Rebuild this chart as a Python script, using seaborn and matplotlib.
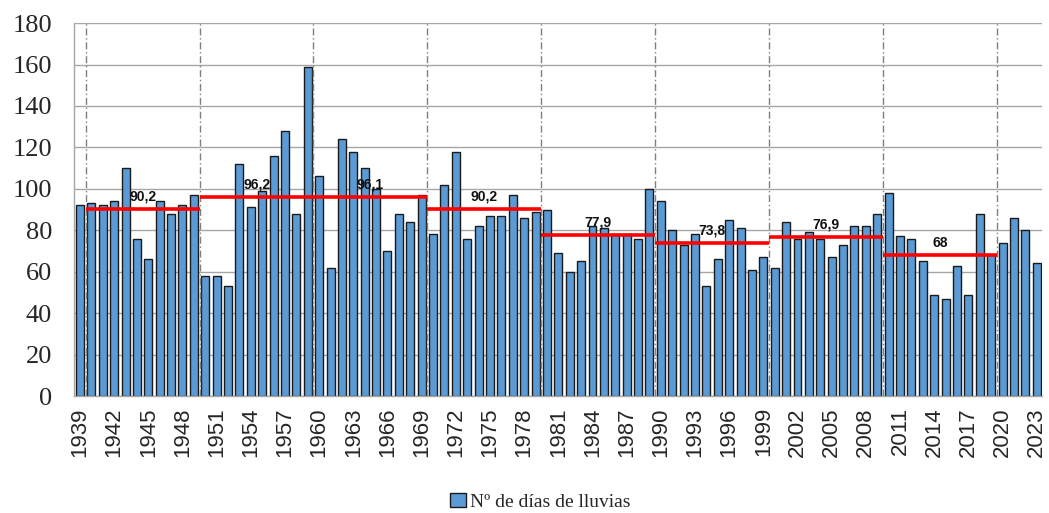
import matplotlib
matplotlib.use("Agg")
import matplotlib.pyplot as plt
import seaborn as sns
import pandas as pd
from matplotlib.patches import Patch

years = list(range(1939, 2024))
rain_days = [92, 93, 92, 94, 110, 76, 66, 94, 88, 92, 97,
             58, 58, 53, 112, 91, 99, 116, 128, 88, 159,
             106, 62, 124, 118, 110, 100, 70, 88, 84, 97,
             78, 102, 118, 76, 82, 87, 87, 97, 86, 89,
             90, 69, 60, 65, 82, 81, 78, 78, 76, 100,
             94, 80, 73, 78, 53, 66, 85, 81, 61, 67,
             62, 84, 76, 79, 76, 67, 73, 82, 82, 88,
             98, 77, 76, 65, 49, 47, 63, 49, 88, 68,
             74, 86, 80, 64]
decade_starts = [1940, 1950, 1960, 1970, 1980, 1990, 2000, 2010]
decade_means = [90.2, 96.2, 96.1, 90.2, 77.9, 73.8, 76.9, 68.0]
decade_labels = ["90,2", "96,2", "96,1", "90,2", "77,9", "73,8", "76,9", "68"]
series_name = "Nº de días de lluvias"

df = pd.DataFrame({"year": [str(y) for y in years], "days": rain_days})

sns.set_style("white")
plt.rcParams["font.family"] = ["Liberation Serif", "DejaVu Serif"]

fig = plt.figure(figsize=(10.49, 5.13), dpi=100)
ax = fig.add_axes([0.0708, 0.228, 0.9229, 0.727])

bar_color = "#5B9BD5"
sns.barplot(data=df, x="year", y="days", color=bar_color, width=0.7,
            edgecolor="#1a1a1a", linewidth=1.0, saturation=1, ax=ax, zorder=2)

ax.set_xlim(-0.5, len(years) - 0.5)
ax.set_ylim(0, 180)
ax.set_yticks(range(0, 181, 20))
ax.yaxis.grid(True, color="#a6a6a6", linewidth=1.0, zorder=0)
ax.set_axisbelow(True)

# decade separators
for k in range(9):
    ax.axvline(0.5 + 10 * k, color="#7f7f7f", linestyle=(0, (5, 2, 1, 2)),
               linewidth=1.0, zorder=3)

# decade means
for start, m, lab in zip(decade_starts, decade_means, decade_labels):
    i0 = years.index(start)
    ax.hlines(m, i0 - 0.5, i0 + 9.5, color="#ff0000", linewidth=2.6, zorder=4)
    ax.annotate(lab, xy=(i0 + 4.5, m), xytext=(0, 4), textcoords="offset points",
                ha="center", va="bottom", fontsize=10, fontweight="bold",
                family=["Liberation Sans", "DejaVu Sans"], color="#111111", zorder=5)

# x ticks
major_pos = list(range(0, len(years), 3))
ax.set_xticks(major_pos)
ax.set_xticklabels([str(years[i]) for i in major_pos], rotation=90,
                   family=["Liberation Sans", "DejaVu Sans"], fontsize=16)
ax.set_xticks([i - 0.5 for i in range(len(years) + 1)], minor=True)
ax.tick_params(axis="x", which="major", length=0, pad=8)
ax.tick_params(axis="x", which="minor", length=6, color="#a6a6a6", width=1, direction="out")
ax.tick_params(axis="y", length=7, color="#a6a6a6", width=1, direction="out", pad=9,
               labelsize=19)
ax.set_xlabel("")
ax.set_ylabel("")

for s in ["top", "right"]:
    ax.spines[s].set_visible(False)
for s in ["left", "bottom"]:
    ax.spines[s].set_color("#a6a6a6")
    ax.spines[s].set_linewidth(1.0)

handle = Patch(facecolor=bar_color, edgecolor="#1a1a1a", linewidth=1.0)
fig.legend([handle], [series_name], loc="center", bbox_to_anchor=(0.515, 0.022),
           frameon=False, fontsize=14, handlelength=0.8, handleheight=0.8,
           handletextpad=0.2)

fig.savefig("out.png", dpi=100)
